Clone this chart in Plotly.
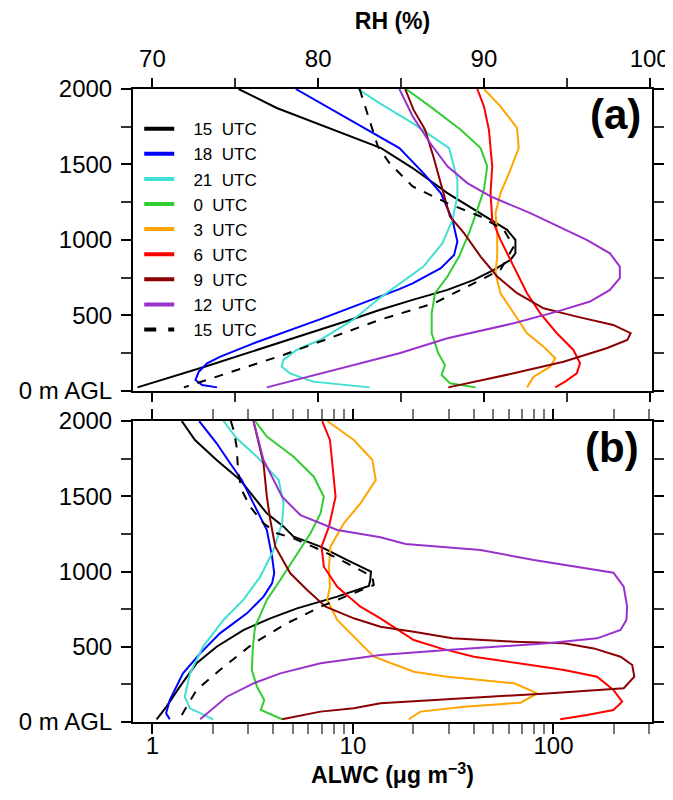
import plotly.graph_objects as go

# ---------------- Panel (a): RH (%) profiles ----------------
H_A_15 = [2000, 1874, 1608, 1476, 1310, 1133, 1066, 1000, 911, 867, 801, 735, 668, 602, 575, 535, 475, 164, 22]
RH_15 = [75.2, 77.5, 83.8, 85.7, 87.8, 90.4, 91.4, 91.9, 91.9, 91.6, 90.6, 89.4, 87.8, 85.7, 84.9, 83.7, 82.1, 73.3, 69.1]

H_A_18 = [2000, 1684, 1608, 1442, 1310, 1133, 989, 900, 812, 712, 673, 473, 314, 226, 181, 126, 71, 38, 22]
RH_18 = [78.65, 83.7, 84.9, 86.35, 87.4, 88.1, 88.4, 88.2, 87.4, 85.7, 84.9, 80.1, 76.1, 74.1, 73.3, 72.8, 72.6, 73.0, 73.9]

H_A_21 = [2000, 1907, 1774, 1608, 1398, 1288, 1133, 978, 823, 690, 613, 469, 336, 270, 204, 159, 115, 60, 22]
RH_21 = [82.4, 83.7, 85.7, 87.9, 88.4, 88.4, 88.1, 87.5, 86.35, 84.7, 83.7, 82.1, 80.1, 78.7, 77.9, 77.8, 78.3, 79.7, 83.1]

H_A_0 = [2000, 1885, 1730, 1608, 1487, 1332, 1199, 1044, 889, 757, 646, 513, 381, 248, 170, 104, 49, 22]
RH_0 = [85.3, 86.75, 88.6, 89.8, 90.2, 90.0, 89.6, 89.1, 88.5, 87.8, 87.05, 86.85, 86.85, 87.25, 87.65, 87.45, 87.95, 89.5]

H_A_3 = [2000, 1885, 1741, 1608, 1465, 1310, 1177, 1044, 889, 779, 646, 513, 381, 292, 215, 159, 93, 22]
RH_3 = [90.0, 91.0, 92.0, 92.1, 91.6, 91.0, 90.7, 90.8, 90.8, 90.7, 91.0, 91.8, 92.6, 93.6, 94.3, 94.0, 93.0, 92.6]

H_A_6 = [2000, 1885, 1730, 1487, 1310, 1133, 1000, 823, 646, 513, 381, 270, 181, 115, 60, 22]
RH_6 = [89.6, 90.0, 90.3, 90.5, 90.4, 90.5, 91.0, 91.8, 92.6, 93.4, 94.4, 95.4, 95.8, 95.6, 94.9, 94.3]

H_A_9 = [2000, 1863, 1730, 1553, 1354, 1155, 1044, 889, 757, 646, 546, 491, 436, 381, 336, 281, 192, 115, 22]
RH_9 = [85.25, 85.75, 86.45, 86.95, 87.45, 87.95, 88.8, 89.8, 90.8, 92.0, 93.6, 95.6, 97.8, 98.85, 98.65, 97.4, 94.8, 91.8, 87.85]

H_A_12 = [2000, 1819, 1642, 1487, 1376, 1288, 1177, 1000, 911, 823, 746, 668, 591, 524, 447, 347, 248, 22]
RH_12 = [84.9, 85.7, 86.75, 87.8, 89.0, 90.4, 92.8, 96.2, 97.6, 98.2, 98.2, 97.6, 96.4, 94.4, 91.8, 87.8, 84.9, 76.9]

H_A_15B = [2000, 1620, 1509, 1354, 1243, 1155, 1066, 956, 801, 735, 580, 469, 237, 22]
RH_15B = [82.5, 83.6, 84.3, 85.7, 87.8, 89.8, 91.2, 91.8, 91.0, 89.8, 87.0, 83.7, 77.9, 71.9]

# ---------------- Panel (b): ALWC (ug m-3) profiles ----------------
H_B_15 = [2000, 1874, 1741, 1608, 1386, 1298, 1231, 1165, 1076, 999, 943, 904, 833, 755, 689, 611, 500, 390, 235, 102, 18]
ALWC_15 = [1.40, 1.63, 2.09, 2.74, 3.72, 4.51, 5.06, 6.89, 9.37, 12.3, 12.2, 12.0, 8.35, 5.26, 3.87, 2.84, 2.09, 1.66, 1.37, 1.175, 1.05]

H_B_18 = [2000, 1852, 1719, 1608, 1453, 1276, 1099, 988, 921, 833, 722, 589, 456, 323, 146, 58, 18]
ALWC_18 = [1.71, 2.09, 2.44, 2.79, 3.19, 3.72, 3.95, 4.05, 3.95, 3.58, 2.96, 2.17, 1.73, 1.42, 1.22, 1.17, 1.22]

H_B_21 = [2000, 1885, 1763, 1608, 1453, 1320, 1143, 966, 811, 678, 501, 323, 168, 91, 18]
ALWC_21 = [2.26, 2.63, 3.32, 4.26, 4.51, 4.43, 4.02, 3.45, 2.84, 2.26, 1.79, 1.54, 1.45, 1.54, 2.01]

H_B_0 = [2000, 1896, 1763, 1630, 1497, 1386, 1254, 1076, 944, 811, 633, 501, 346, 235, 146, 80, 18]
ALWC_0 = [3.25, 3.72, 5.06, 6.38, 7.16, 6.89, 6.14, 5.06, 4.34, 3.72, 3.25, 3.17, 3.13, 3.32, 3.61, 3.47, 4.43]

H_B_3 = [2000, 1874, 1741, 1608, 1453, 1320, 1165, 1032, 899, 811, 678, 567, 434, 334, 301, 279, 257, 190, 128, 102, 69, 18]
ALWC_3 = [7.44, 10.1, 12.5, 13.0, 10.9, 9.0, 7.73, 7.59, 7.68, 7.44, 8.35, 10.1, 12.7, 20.1, 29.5, 43.3, 63.7, 83.1, 68.6, 35.8, 21.7, 19.0]

H_B_6 = [2000, 1874, 1497, 1298, 1165, 1032, 899, 766, 689, 545, 489, 434, 379, 345, 301, 213, 135, 80, 47, 18]
ALWC_6 = [7.02, 7.68, 8.19, 7.59, 6.97, 7.16, 8.35, 10.9, 13.7, 20.1, 27.4, 40.1, 76.9, 113, 165, 199, 220, 199, 147, 108]

H_B_9 = [2000, 1719, 1497, 1342, 1165, 988, 877, 766, 689, 633, 600, 556, 534, 523, 489, 434, 379, 301, 224, 190, 151, 124, 91, 69, 18]
ALWC_9 = [3.19, 3.58, 3.72, 3.87, 4.10, 4.87, 5.91, 7.3, 10.1, 13.7, 20.1, 31.3, 63.7, 113, 159, 216, 247, 253, 224, 92.9, 29.5, 13.7, 10.1, 6.89, 4.43]

H_B_12 = [2000, 1741, 1497, 1375, 1276, 1227, 1183, 1143, 1076, 992, 899, 766, 678, 611, 556, 523, 478, 445, 390, 323, 257, 168, 18]
ALWC_12 = [3.19, 3.58, 4.43, 5.47, 8.35, 13.7, 18.3, 43.3, 79.8, 199, 224, 233, 231, 216, 165, 92.9, 29.5, 13.7, 6.89, 4.34, 3.19, 2.35, 1.73]

H_B_15B = [2000, 1940, 1829, 1652, 1541, 1431, 1320, 1254, 1220, 1143, 1054, 966, 910, 855, 766, 656, 523, 346, 213, 102, 18]
ALWC_15B = [2.46, 2.54, 2.63, 2.68, 2.79, 3.07, 3.58, 4.18, 5.06, 6.89, 9.37, 12.5, 12.7, 10.1, 6.89, 4.69, 3.19, 2.17, 1.66, 1.48, 1.36]

# ---------------- labels / ticks ----------------
SERIES_LABELS = ["15  UTC", "18  UTC", "21  UTC", "0  UTC", "3  UTC", "6  UTC", "9  UTC", "12  UTC", "15  UTC"]
HEIGHT_TICKS = [0, 500, 1000, 1500, 2000]
HEIGHT_TICKTEXT = ["0 m AGL", "500", "1000", "1500", "2000"]
HEIGHT_MINOR = [250, 750, 1250, 1750]
RH_TICKS = [70, 80, 90, 100]
RH_MINOR = [75, 85, 95]
ALWC_TICKS = [1, 10, 100]
ALWC_TICKTEXT = ["1", "10", "100"]
ALWC_MINOR = [2, 3, 4, 5, 6, 7, 8, 9, 20, 30, 40, 50, 60, 70, 80, 90, 200, 300]

COLORS = ["black", "#0000FF", "#40E0D0", "#32CD32", "#FFA500", "#FF0000", "#8B0000", "#9932CC", "black"]
DASHES = ["solid"] * 8 + ["dash"]

panel_a = [(H_A_15, RH_15), (H_A_18, RH_18), (H_A_21, RH_21), (H_A_0, RH_0), (H_A_3, RH_3),
           (H_A_6, RH_6), (H_A_9, RH_9), (H_A_12, RH_12), (H_A_15B, RH_15B)]
panel_b = [(H_B_15, ALWC_15), (H_B_18, ALWC_18), (H_B_21, ALWC_21), (H_B_0, ALWC_0), (H_B_3, ALWC_3),
           (H_B_6, ALWC_6), (H_B_9, ALWC_9), (H_B_12, ALWC_12), (H_B_15B, ALWC_15B)]

FONT = "Liberation Sans, Arial, sans-serif"

fig = go.Figure()
for (h, v), c, d in zip(panel_a, COLORS, DASHES):
    fig.add_trace(go.Scatter(x=v, y=h, mode="lines", line=dict(color=c, width=2, dash=d),
                             xaxis="x", yaxis="y", showlegend=False, hoverinfo="skip"))
for (h, v), c, d in zip(panel_b, COLORS, DASHES):
    fig.add_trace(go.Scatter(x=v, y=h, mode="lines", line=dict(color=c, width=2, dash=d),
                             xaxis="x2", yaxis="y2", showlegend=False, hoverinfo="skip"))
# legend entries
for lab, c, d in zip(SERIES_LABELS, COLORS, DASHES):
    fig.add_trace(go.Scatter(x=[None], y=[None], mode="lines", line=dict(color=c, width=4, dash=d),
                             name="\u00a0\u00a0\u00a0" + lab.replace(" ", "\u00a0"),
                             xaxis="x", yaxis="y", showlegend=True))

common_y = dict(range=[0, 2000], tickmode="array", tickvals=HEIGHT_TICKS, ticktext=HEIGHT_TICKTEXT,
                ticks="outside", ticklen=10, tickwidth=2, tickcolor="black",
                minor=dict(tickvals=HEIGHT_MINOR, ticks="outside", ticklen=10, tickwidth=1.5, tickcolor="#333"),
                showline=True, linewidth=2, linecolor="black", mirror="ticks", automargin=False,
                showgrid=False, zeroline=False, tickfont=dict(size=24, color="black", family=FONT),
                ticklabelstandoff=4)

# page body has an 8 px margin, so the figure is offset to fit the 673x800 window
fig.update_layout(
    width=673, height=784,
    margin=dict(l=125, r=29, t=81, b=70, autoexpand=False),
    paper_bgcolor="white", plot_bgcolor="white",
    font=dict(family=FONT, color="black"),
    showlegend=True,
    legend=dict(x=0.012, y=0.965, xanchor="left", yanchor="top", bgcolor="rgba(0,0,0,0)",
                font=dict(size=17, color="black", family=FONT), tracegroupgap=0),
    xaxis=dict(domain=[0, 1], anchor="y", side="top", range=[68.83, 100.14],
               tickmode="array", tickvals=RH_TICKS,
               ticks="outside", ticklen=9, tickwidth=2, tickcolor="black",
               minor=dict(tickvals=RH_MINOR, ticks="outside", ticklen=9, tickwidth=1.5, tickcolor="#333"),
               showline=True, linewidth=2, linecolor="black", mirror="ticks", automargin=False,
               showgrid=False, zeroline=False, tickfont=dict(size=24, color="black", family=FONT),
               ticklabelstandoff=1,
               title=dict(text="<b>RH (%)</b>", font=dict(size=23, color="black", family=FONT), standoff=12)),
    yaxis=dict(domain=[0.5234, 1], anchor="x", **common_y),
    xaxis2=dict(domain=[0, 1], anchor="y2", side="bottom", type="log", range=[-0.0969, 2.4913],
                tickmode="array", tickvals=ALWC_TICKS, ticktext=ALWC_TICKTEXT,
                ticks="outside", ticklen=10, tickwidth=2, tickcolor="black",
                minor=dict(tickvals=ALWC_MINOR, ticks="outside", ticklen=10, tickwidth=1.5, tickcolor="#777"),
                showline=True, linewidth=2, linecolor="black", mirror="ticks", automargin=False,
                showgrid=False, zeroline=False, tickfont=dict(size=24, color="black", family=FONT),
                ticklabelstandoff=-9,
                title=dict(text="<b>ALWC (\u03bcg m<sup>\u22123</sup>)</b>",
                           font=dict(size=23, color="black", family=FONT), standoff=2)),
    yaxis2=dict(domain=[0, 0.4755], anchor="x2", **common_y),
    annotations=[
        dict(text="<b>(a)</b>", x=0.9306, y=0.959, xref="paper", yref="paper", xanchor="center",
             yanchor="middle", showarrow=False, font=dict(size=42, color="black", family=FONT)),
        dict(text="<b>(b)</b>", x=0.923, y=0.434, xref="paper", yref="paper", xanchor="center",
             yanchor="middle", showarrow=False, font=dict(size=42, color="black", family=FONT)),
    ],
)

fig.write_html("out.html")
